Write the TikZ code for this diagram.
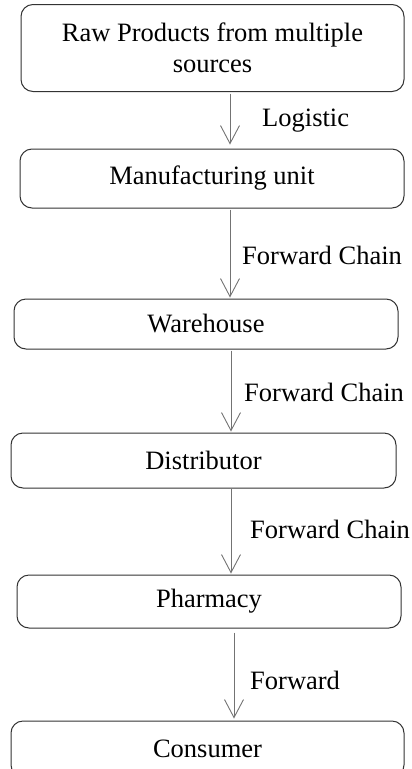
\documentclass[tikz,border=0pt]{standalone}
\usepackage{fontspec}
\setmainfont{Liberation Serif}
\usetikzlibrary{arrows.meta}

\tikzset{
  stage/.style={draw=black!80, line width=1pt, rounded corners=12pt,
    minimum width=384pt, inner sep=0pt, font=\fontsize{26.5}{31}\selectfont},
  flow/.style={draw=black!55, line width=0.9pt,
    -{Straight Barb[length=18pt,width=19pt,line width=0.9pt]}},
  tag/.style={anchor=west, inner sep=0pt, font=\fontsize{26.5}{31}\selectfont}
}

\begin{document}
\begin{tikzpicture}[x=1pt,y=-1pt]
 \clip (0,0) rectangle (412,769);
 % stages of the chain
 \node[stage, minimum width=383pt, minimum height=87pt, align=center] (raw) at (212.5,48) {Raw Products from multiple\\sources};
 \node[stage, minimum height=59pt] (manu) at (212,178.5) {Manufacturing unit};
 \node[stage, minimum height=50pt] (ware) at (206,324) {Warehouse};
 \node[stage, minimum width=385pt, minimum height=55pt] (dist) at (203.5,460.5) {Distributor};
 \node[stage, minimum height=53pt] (pharm) at (209,601.5) {Pharmacy};
 \node[stage, minimum width=393pt, minimum height=56pt] (cons) at (207.5,749) {Consumer};
 % links between stages
 \draw[flow, shorten <=1.5pt, shorten >=4pt] ([xshift=17.5pt]raw.south) -- ([xshift=18pt]manu.north);
 \draw[flow, shorten <=1pt, shorten >=1pt] ([xshift=18pt]manu.south) -- ([xshift=24pt]ware.north);
 \draw[flow, shorten <=1pt, shorten >=1pt] ([xshift=25pt]ware.south) -- ([xshift=27.5pt]dist.north);
 \draw[flow, shorten <=0.5pt, shorten >=1pt] ([xshift=27.5pt]dist.south) -- ([xshift=22pt]pharm.north);
 \draw[flow, shorten <=4pt, shorten >=2pt] ([xshift=25pt]pharm.south) -- ([xshift=26.5pt]cons.north);
 % labels of the links
 \node[tag] (tlog) at (262,121) {Logistic};
 \node[tag] (tfwdA) at (242,255) {Forward Chain};
 \node[tag] (tfwdB) at (244,392) {Forward Chain};
 \node[tag] (tfwdC) at (250,529) {Forward Chain};
 \node[tag] (tfwdD) at (250,680) {Forward};
\end{tikzpicture}
\end{document}
